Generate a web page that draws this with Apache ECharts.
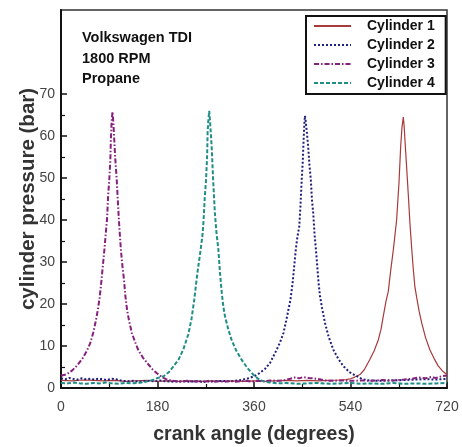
<!DOCTYPE html>
<html>
<head>
<meta charset="utf-8">
<script src="https://cdn.jsdelivr.net/npm/echarts@6/dist/echarts.min.js"></script>
<style>
html,body{margin:0;padding:0;background:#fff;}
#chart{width:462px;height:447px;}
</style>
</head>
<body>
<div id="chart"></div>
<script>
// ---- data (crank angle in degrees, cylinder pressure in bar) ----
const seriesNames = ['Cylinder 1', 'Cylinder 2', 'Cylinder 3', 'Cylinder 4'];
const annotationLines = ['Volkswagen TDI', '1800 RPM', 'Propane'];
const xTickValues = [0, 180, 360, 540, 720];
const yTickValues = [0, 10, 20, 30, 40, 50, 60, 70];
const yMinorTickValues = [5, 15, 25, 35, 45, 55, 65];

const cyl1 = [[0,1.8],[20,1.7],[40,1.9],[60,1.8],[80,1.7],[100,1.8],[120,1.6],[140,1.7],[160,1.8],[180,1.6],[200,1.7],[220,1.6],[240,1.7],[260,1.6],[280,1.7],[300,1.6],[320,1.7],[340,1.6],[360,1.7],[380,1.6],[400,1.7],[420,1.8],[440,1.7],[460,1.8],[480,1.7],[500,1.8],[520,1.9],[532,2.0],[540,2.2],[548,2.6],[557.7,3.2],[566,4.4],[576,6.8],[584,8.8],[592,11.5],[597,14],[601,17],[606,20.5],[610.5,23],[615,28],[620,33],[623,36.5],[626,40],[628,44],[630.5,49],[633.6,57.5],[636,62],[638.5,64.5],[640,62.5],[641.6,59],[644.5,53],[648,45.6],[651,39],[654,33.5],[657,28.5],[660,24.2],[663.5,21.5],[668,18.3],[672.8,15.5],[680,12],[688,9.1],[696,7],[703.8,5.2],[712,4.0],[720,3.2]];

const cyl2 = [[0,2.3],[8,2.1],[15,2.4],[22,2.2],[30,2.0],[38,2.3],[45,2.1],[55,2.2],[62,2.0],[70,2.2],[78,2.1],[85,1.9],[95,2.2],[105,2.0],[115,1.7],[125,1.6],[135,1.7],[145,1.5],[155,1.6],[165,1.7],[175,1.6],[185,1.8],[195,1.6],[210,1.5],[225,1.6],[240,1.5],[255,1.6],[270,1.5],[285,1.6],[300,1.7],[315,1.6],[325,1.7],[335,1.9],[344,2.1],[352,2.4],[362,2.9],[371,3.6],[381,4.6],[390,6],[396,7.5],[403,9.3],[409,11],[415,13.1],[420,16],[424,18.5],[428,21],[432,25],[435,29],[438,33],[441,36],[444.5,38.5],[446.5,43],[449,49.6],[451,54],[452.5,59],[454,63],[455,64.8],[456.5,63.5],[458.5,61],[461,57.5],[463.5,53],[466,49.6],[468,45],[470.5,41.6],[473,36.5],[475.5,33],[478,29],[480.5,25],[483,22],[487,19],[492.4,15.5],[499,12.3],[508,9.1],[517,7],[526.6,5.2],[538,3.8],[551.6,2.8],[562,2.1],[575,1.8],[600,1.7],[620,1.8],[640,1.9],[660,2.0],[680,2.1],[700,2.0],[720,2.2]];

const cyl3 = [[0,2.9],[11,3.3],[21,4.2],[31,5.5],[41,7.2],[48,8.8],[54,10.5],[60,13.1],[65,16],[69,18.8],[72,21.5],[75,25],[78,29],[81,33],[84,37.5],[86,40.5],[88,46],[90,49.5],[92,54],[93,59],[94.5,63.5],[96,65.8],[97.5,63.5],[99,60],[101,55],[104,49.5],[106,44.5],[108,40],[110,36],[112,32.5],[115,28.5],[117.5,25.8],[120,22],[123,18.8],[127,16],[132,13.2],[138,11],[144,9.1],[153,7.2],[163,5.6],[171,4.4],[179,3.5],[188,2.6],[196,2.1],[205,1.8],[215,1.6],[225,1.5],[235,1.7],[245,1.5],[255,1.6],[265,1.4],[275,1.7],[285,1.5],[295,1.6],[305,1.5],[315,1.7],[325,1.5],[335,1.6],[345,1.7],[355,1.5],[365,1.7],[378,1.6],[390,1.8],[405,1.7],[418,1.9],[428,2.2],[436,2.5],[444,2.3],[452,2.6],[462,2.4],[472,2.3],[482,2.1],[492,1.8],[505,1.7],[520,1.8],[540,1.7],[560,1.8],[580,1.7],[600,1.9],[620,1.8],[640,2.0],[655,2.2],[668,2.5],[680,2.3],[690,2.6],[700,2.4],[710,2.8],[720,3.0]];

const cyl4 = [[0,1.2],[12,1.1],[24,1.3],[36,1.1],[48,1.0],[60,1.2],[72,1.1],[84,1.3],[96,1.1],[108,1.0],[120,1.2],[132,1.1],[144,1.2],[155,1.4],[165,1.7],[173,2.0],[180.5,2.4],[191.5,2.8],[201.5,3.8],[210.5,5.3],[219.5,6.8],[228.5,9.3],[237.5,12.8],[243.5,16.5],[248.5,21],[254.5,27.5],[259.5,32],[264,36.5],[266,40],[268,45],[270.5,49.5],[272.5,55],[273.5,61],[275,64],[276.5,66],[278,63.5],[281,57.5],[284,49],[287,41.7],[290,37],[293.5,33],[296.5,27.5],[300,22.5],[303,19.2],[306,17],[312,14],[318,11.5],[326.5,9],[336.5,6.8],[347.5,4.8],[358.5,3.2],[367.5,2.2],[377.5,1.6],[390,1.3],[405,1.1],[420,1.2],[440,1.0],[460,1.1],[480,1.2],[500,1.0],[520,1.1],[540,1.2],[560,1.0],[580,1.1],[600,1.0],[620,1.2],[640,1.0],[660,1.1],[680,1.0],[700,1.1],[720,1.2]];

const seriesData = [cyl1, cyl2, cyl3, cyl4];
const seriesColors = ['#a83a3a', '#1e1e7c', '#86207c', '#1f8e86'];
const seriesDash = ['solid', [2, 2], [5, 2, 1.5, 2], [4, 2]];
const seriesWidth = [1.2, 2, 2, 2];

const FONT = 'Liberation Sans, Arial, sans-serif';
const chart = echarts.init(document.getElementById('chart'), null, {renderer: 'canvas'});

const option = {
  animation: false,
  backgroundColor: '#fff',
  grid: {left: 61, right: 15, top: 10, bottom: 59, show: true, borderColor: '#333', borderWidth: 1.5,
    backgroundColor: 'transparent', containLabel: false, outerBoundsMode: 'none'},
  legend: {
    orient: 'vertical', left: 306, top: 16,
    itemWidth: 37, itemHeight: 14, itemGap: 5,
    padding: [3, 11, 4, 7],
    borderColor: '#111', borderWidth: 2, backgroundColor: '#fff',
    itemStyle: {opacity: 0},
    textStyle: {fontFamily: FONT, fontWeight: 'bold', fontSize: 14, color: '#111', padding: [0, 0, 0, 11], lineHeight: 14},
    data: seriesNames
  },
  xAxis: {
    type: 'value', min: 0, max: 720, interval: 180,
    name: 'crank angle (degrees)', nameLocation: 'middle', nameGap: 37, nameMoveOverlap: false,
    nameTextStyle: {fontFamily: FONT, fontWeight: 'bold', fontSize: 19.5, color: '#333'},
    axisLine: {show: true, lineStyle: {color: '#111', width: 2}},
    axisTick: {show: true, inside: true, length: 6, lineStyle: {color: '#111', width: 1.5}},
    minorTick: {show: true, splitNumber: 2, length: 4, lineStyle: {color: '#111', width: 1.2}},
    axisLabel: {fontFamily: FONT, fontSize: 14, color: '#444', margin: 12, customValues: xTickValues},
    splitLine: {show: false}
  },
  yAxis: [{
    type: 'value', min: 0, max: 90, interval: 10,
    name: 'cylinder pressure (bar)', nameLocation: 'middle', nameGap: 22, nameMoveOverlap: false,
    nameTextStyle: {fontFamily: FONT, fontWeight: 'bold', fontSize: 20.5, color: '#333'},
    axisLine: {show: true, lineStyle: {color: '#111', width: 2}},
    axisTick: {show: true, inside: true, length: 6, lineStyle: {color: '#111', width: 1.5}, customValues: yTickValues},
    axisLabel: {fontFamily: FONT, fontSize: 14, color: '#444', margin: 6, customValues: yTickValues,
      formatter: v => (v > 70 ? '' : String(v))},
    splitLine: {show: false}
  }, {
    type: 'value', min: 0, max: 90, interval: 10, position: 'left',
    axisLine: {show: false},
    axisTick: {show: true, inside: true, length: 4, lineStyle: {color: '#111', width: 1.2}, customValues: yMinorTickValues},
    axisLabel: {show: false},
    splitLine: {show: false}
  }],
  graphic: annotationLines.map((t, i) => ({
    type: 'text', x: 82, y: 38 + i * 20.5, z: 10,
    style: {text: t, fontFamily: FONT, fontWeight: 'bold', fontSize: 14.5, fill: '#111', verticalAlign: 'middle'}
  })),
  series: seriesNames.map((n, i) => ({
    name: n, type: 'line', data: seriesData[i], symbol: 'none', showSymbol: false,
    color: seriesColors[i],
    lineStyle: {color: seriesColors[i], width: seriesWidth[i], type: seriesDash[i]},
    z: 2 + i
  }))
};
chart.setOption(option);
</script>
</body>
</html>
